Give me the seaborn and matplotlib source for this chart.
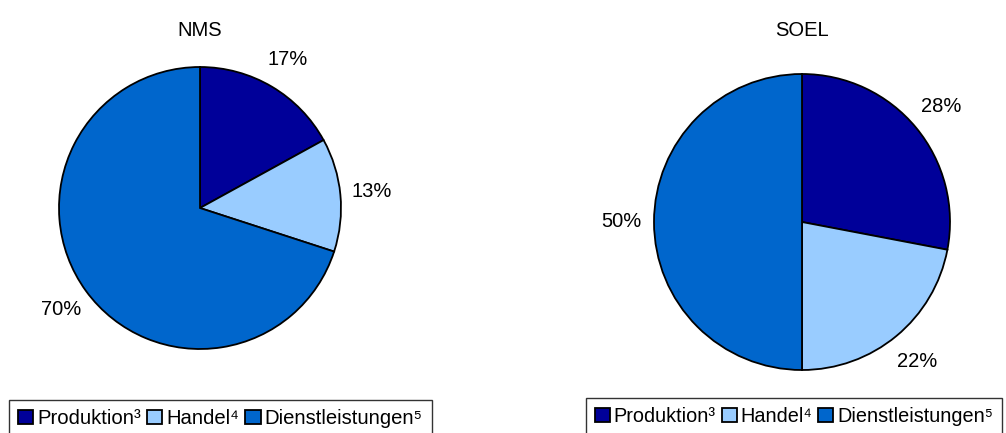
import matplotlib
matplotlib.use("Agg")
import matplotlib.pyplot as plt
from matplotlib.patches import Patch
import seaborn as sns

# Sector shares (percent) of enterprises in two regions
sectors = ["Produktion", "Handel", "Dienstleistungen"]
sector_labels = ["Produktion\u00b3", "Handel\u2074", "Dienstleistungen\u2075"]
nms_shares = [17, 13, 70]
soel_shares = [28, 22, 50]
panel_titles = ["NMS", "SOEL"]

sector_colors = ["#000099", "#99CCFF", "#0066CC"]

sns.set_theme(style="white")
plt.rcParams["font.family"] = ["Liberation Sans", "DejaVu Sans"]
plt.rcParams["text.color"] = "black"

W, H = 1006, 433
fig = plt.figure(figsize=(W / 100, H / 100), dpi=100)
fig.patch.set_facecolor("white")


def pie_axes(cx, cy, r):
    """Square axes (in pixels) holding a unit-radius pie centred at (cx, cy)."""
    return fig.add_axes([(cx - r) / W, (H - cy - r) / H, 2 * r / W, 2 * r / H])


def draw_pie(ax, shares):
    ax.pie(
        shares,
        colors=sector_colors,
        startangle=90,
        counterclock=False,
        radius=1.0,
        autopct=lambda p: f"{p:.0f}%",
        pctdistance=1.22,
        wedgeprops=dict(edgecolor="black", linewidth=1.3),
        textprops=dict(fontsize=14.5, color="black"),
    )
    ax.set_xlim(-1, 1)
    ax.set_ylim(-1, 1)
    ax.set_aspect("equal")
    ax.axis("off")


ax1 = pie_axes(200, 208, 141)
draw_pie(ax1, nms_shares)
ax2 = pie_axes(802, 222, 148)
draw_pie(ax2, soel_shares)

fig.text(200 / W, 1 - 30 / H, panel_titles[0], ha="center", va="center",
         fontsize=14.5, color="black")
fig.text(802 / W, 1 - 30 / H, panel_titles[1], ha="center", va="center",
         fontsize=14.5, color="black")

handles = [Patch(facecolor=c, edgecolor="black", linewidth=1.3) for c in sector_colors]


def add_legend(x_left, y_top, size):
    leg = fig.legend(
        handles,
        sector_labels,
        loc="upper left",
        bbox_to_anchor=(x_left / W, 1 - y_top / H),
        ncol=3,
        frameon=True,
        fancybox=False,
        shadow=False,
        fontsize=size,
        handlelength=0.75,
        handleheight=0.75,
        handletextpad=0.2,
        columnspacing=0.3,
        borderpad=0.45,
        borderaxespad=0,
    )
    frame = leg.get_frame()
    frame.set_edgecolor("black")
    frame.set_linewidth(1.0)
    frame.set_facecolor("white")
    for t in leg.get_texts():
        t.set_color("black")
    return leg


add_legend(9, 400, 14.6)
add_legend(586, 398, 14.3)

fig.savefig("out.png", dpi=100, facecolor="white")
